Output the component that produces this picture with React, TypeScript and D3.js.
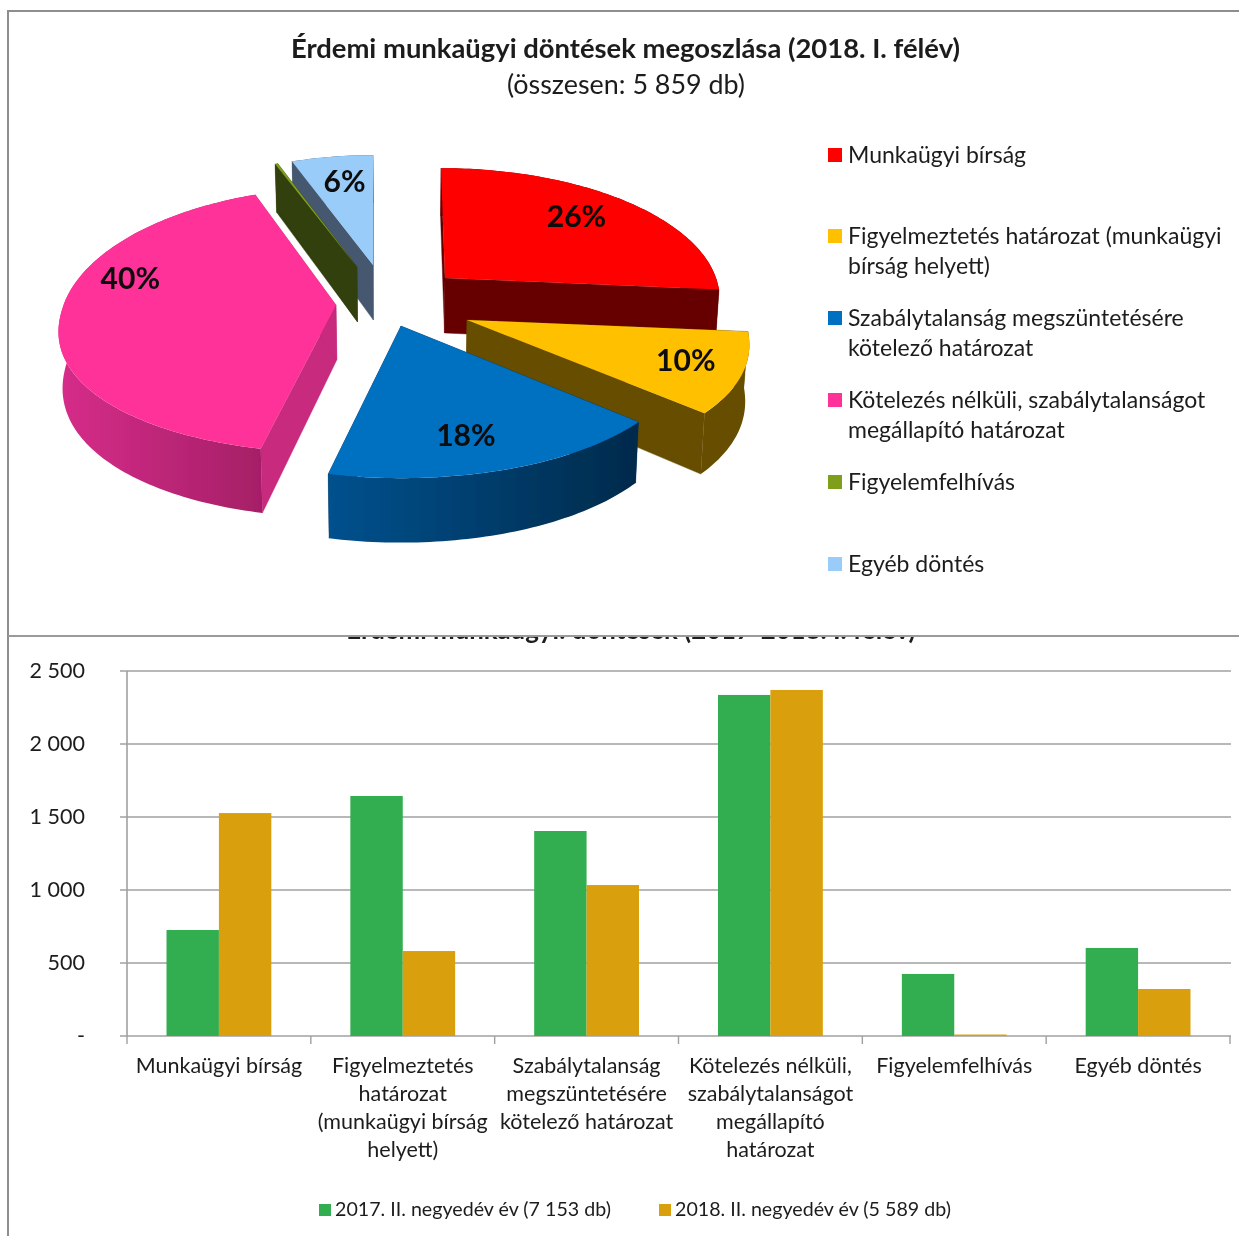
import React from 'react';
import * as d3 from 'd3';

const pieTitle = 'Érdemi munkaügyi döntések megoszlása (2018. I. félév)';
const pieSubtitle = '(összesen: 5 859 db)';
const barTitle = 'Érdemi munkaügyi: döntések (2017-2018. I. félév)';

const pieShares = [26.1, 9.9, 17.6, 40.4, 0.2, 5.8];
const topColors = ['#ff0000', '#ffc000', '#0070c0', '#ff3399', '#7f9f1f', '#99ccf8'];
const wallColors = ['#660000', '#664d00', '#00355f', '#c8297d', '#333f0c', '#44596f'];
const arcFrom = ['#660000', '#664d00', '#00518e', '#d62d8a', '#333f0c', '#44596f'];
const arcTo = ['#660000', '#664d00', '#002a4b', '#a51f66', '#333f0c', '#44596f'];
// where each slice's tip landed after being pulled out of the pie
const sliceTipX = [445, 467, 401, 336, 357, 373];
const sliceTipY = [278, 320, 326, 305, 267, 265];
// small per-slice distortions of the picture's fake 3D
const sliceScale = [0.975, 1, 1, 0.98, 0.91, 0.93];
const sliceBackShear = [-4, 0, 0, 8, 0, 0];
const sliceFrontShear = [0, 0, 0, 4, 0, 0];
const sliceBackLift = [1, 1, 1, 1.07, 1, 1];
const sliceFrontLift = [1, 1, 1.03, 1, 1, 1];
const labelRadius = [0.75, 0.8, 0.775, 0.81, 0, 0.747];
const labelSweep = [0.48, 0.45, 0.55, 0.63, 0, 0.55];

const pieLegend = [
  { lines: ['Munkaügyi bírság'], row: 155 },
  { lines: ['Figyelmeztetés határozat (munkaügyi', 'bírság helyett)'], row: 236 },
  { lines: ['Szabálytalanság megszüntetésére', 'kötelező határozat'], row: 318 },
  { lines: ['Kötelezés nélküli, szabálytalanságot', 'megállapító határozat'], row: 400 },
  { lines: ['Figyelemfelhívás'], row: 482 },
  { lines: ['Egyéb döntés'], row: 564 },
];

const barCategories = [
  ['Munkaügyi bírság'],
  ['Figyelmeztetés', 'határozat', '(munkaügyi bírság', 'helyett)'],
  ['Szabálytalanság', 'megszüntetésére', 'kötelező határozat'],
  ['Kötelezés nélküli,', 'szabálytalanságot', 'megállapító', 'határozat'],
  ['Figyelemfelhívás'],
  ['Egyéb döntés'],
];
const series2017 = [726, 1644, 1404, 2336, 425, 603];
const series2018 = [1527, 582, 1034, 2370, 10, 322];
const yTicks = [0, 500, 1000, 1500, 2000, 2500];
const legend2017 = '2017. II. negyedév év (7 153 db)';
const legend2018 = '2018. II. negyedév év (5 589 db)';
const green = '#32ad50';
const gold = '#da9f08';

const W = 1239, H = 1236;
const font = 'Lato, Carlito, sans-serif';
const ink = '#1c1c1c';

// Tilted-disk perspective used for the 3D pie
const R = 278, TILT = 126, PERSP = 0.147, DEPTH = 55, VX = 400, CONVERGE = 0.012, FRONT_BULGE = 0.9;
function project(i: number, a: number, r: number, low = false): [number, number] {
  const c = Math.cos(a);
  const X = Math.sin(a) * r;
  const Z = (c >= 0 ? c : -Math.pow(-c, FRONT_BULGE)) * r;
  const s = 1 / (1 + PERSP * Z);
  const shear = Z > 0 ? sliceBackShear[i] : sliceFrontShear[i];
  const lift = Z > 0 ? sliceBackLift[i] : sliceFrontLift[i];
  const x = sliceTipX[i] + X * s * R * sliceScale[i] + shear * Z;
  const y = sliceTipY[i] - Z * s * TILT * lift;
  if (!low) return [x, y];
  return [x + (VX - x) * CONVERGE, y + DEPTH * s];
}

const line = d3.line();
const pieArcs = d3.pie<number>().sort(null).value((d) => d).startAngle(0).endAngle(2 * Math.PI)(pieShares);

function sweep(a0: number, a1: number) {
  const n = Math.max(2, Math.ceil(Math.abs(a1 - a0) / 0.02));
  return d3.range(n + 1).map((i) => a0 + ((a1 - a0) * i) / n);
}

const fmt = d3.formatLocale({ decimal: ',', thousands: ' ', grouping: [3], currency: ['', ''] }).format(',d');
const x0 = d3.scaleBand<number>().domain(d3.range(barCategories.length)).range([127, 1230]);
const BAR = 52.4;
const y = d3.scaleLinear().domain([0, 2500]).range([1036, 671]);

function Slice({ i }: { i: number }) {
  const arc = pieArcs[i];
  const a0 = arc.startAngle, a1 = arc.endAngle;
  const angles = sweep(a0, a1);
  const top = angles.map((a) => project(i, a, 1));
  const low = angles.map((a) => project(i, a, 1, true));
  const tipT = project(i, 0, 0), tipB = project(i, 0, 0, true);
  const wall = (a: number) => line([tipT, project(i, a, 1), project(i, a, 1, true), tipB])! + 'Z';
  return (
    <g>
      <path d={wall(a0)} fill={wallColors[i]} stroke={wallColors[i]} strokeWidth={0.4} />
      <path d={wall(a1)} fill={wallColors[i]} stroke={wallColors[i]} strokeWidth={0.4} />
      <path d={line([...top, ...low.slice().reverse()])! + 'Z'} fill={`url(#arcwall${i})`} />
      <path d={line([tipT, ...top])! + 'Z'} fill={topColors[i]} />
    </g>
  );
}

export default function App() {
  return (
    <svg width={W} height={H} viewBox={`0 0 ${W} ${H}`} style={{ position: 'absolute', left: 0, top: 0, background: '#fff' }} fontFamily={font}>
      <defs>
        {pieShares.map((_, i) => (
          <linearGradient key={i} id={`arcwall${i}`} x1="0" x2="1" y1="0" y2="0">
            <stop offset="0" stopColor={arcFrom[i]} />
            <stop offset="1" stopColor={arcTo[i]} />
          </linearGradient>
        ))}
        <clipPath id="lowerPanel"><rect x={9} y={637} width={W} height={H - 637} /></clipPath>
        <filter id="soft" x="-2%" y="-2%" width="104%" height="104%"><feGaussianBlur stdDeviation="0.45" /></filter>
      </defs>

      <g filter="url(#soft)">
        <path d={`M8,${H}V11H${W}`} fill="none" stroke="#8e8e8e" strokeWidth={2} />
        <line x1={8} x2={W} y1={636} y2={636} stroke="#9a9a9a" strokeWidth={2} />

        <text x={625.5} y={58} textAnchor="middle" fontWeight={700} fontSize={27.4} fill={ink}>{pieTitle}</text>
        <text x={626} y={94} textAnchor="middle" fontSize={26.9} fill={ink}>{pieSubtitle}</text>

        {[0, 1, 2, 5, 4, 3].map((i) => <Slice key={i} i={i} />)}

        {pieArcs.map((arc, i) => {
          if (!labelRadius[i]) return null;
          const a = arc.startAngle + (arc.endAngle - arc.startAngle) * labelSweep[i];
          const [lx, ly] = project(i, a, labelRadius[i]);
          return (
            <text key={i} x={lx} y={ly} dy="0.36em" textAnchor="middle" fontWeight={700} fontSize={30} fill="#0a0a0a">
              {`${Math.round(pieShares[i])}%`}
            </text>
          );
        })}

        {pieLegend.map((item, i) => (
          <g key={i}>
            <rect x={828} y={item.row - 7} width={14} height={14} fill={topColors[i]} />
            {item.lines.map((t, j) => (
              <text key={j} x={848} y={item.row + 8 + j * 30} fontSize={23} fill={ink}>{t}</text>
            ))}
          </g>
        ))}

        <text x={631} y={639} textAnchor="middle" fontWeight={700} fontSize={25.8} fill={ink} clipPath="url(#lowerPanel)">{barTitle}</text>

        {yTicks.map((t) => (
          <g key={t}>
            <line x1={120} x2={1231} y1={y(t)} y2={y(t)} stroke="#a0a0a0" strokeWidth={1.6} />
            <text x={85} y={y(t) + 7} textAnchor="end" fontSize={21.5} fill={ink}>{t === 0 ? '-' : fmt(t)}</text>
          </g>
        ))}
        <line x1={127} x2={127} y1={671} y2={1036} stroke="#a0a0a0" strokeWidth={1.6} />

        {barCategories.map((lines, i) => {
          const left = x0(i)!;
          const c = left + x0.bandwidth() / 2;
          return (
            <g key={i}>
              <rect x={c - BAR} width={BAR} y={y(series2017[i])} height={y(0) - y(series2017[i])} fill={green} />
              <rect x={c} width={BAR} y={y(series2018[i])} height={y(0) - y(series2018[i])} fill={gold} />
              {lines.map((t, j) => (
                <text key={j} x={c} y={1073 + j * 28} textAnchor="middle" fontSize={21.5} fill={ink}>{t}</text>
              ))}
            </g>
          );
        })}
        {d3.range(barCategories.length + 1).map((i) => {
          const tx = 127 + x0.step() * i;
          return <line key={i} x1={tx} x2={tx} y1={1036} y2={1044} stroke="#a0a0a0" strokeWidth={1.4} />;
        })}

        <rect x={319} y={1204} width={12} height={12} fill={green} />
        <text x={335} y={1216} fontSize={19.65} fill={ink}>{legend2017}</text>
        <rect x={659} y={1204} width={12} height={12} fill={gold} />
        <text x={675} y={1216} fontSize={19.65} fill={ink}>{legend2018}</text>
      </g>
    </svg>
  );
}
